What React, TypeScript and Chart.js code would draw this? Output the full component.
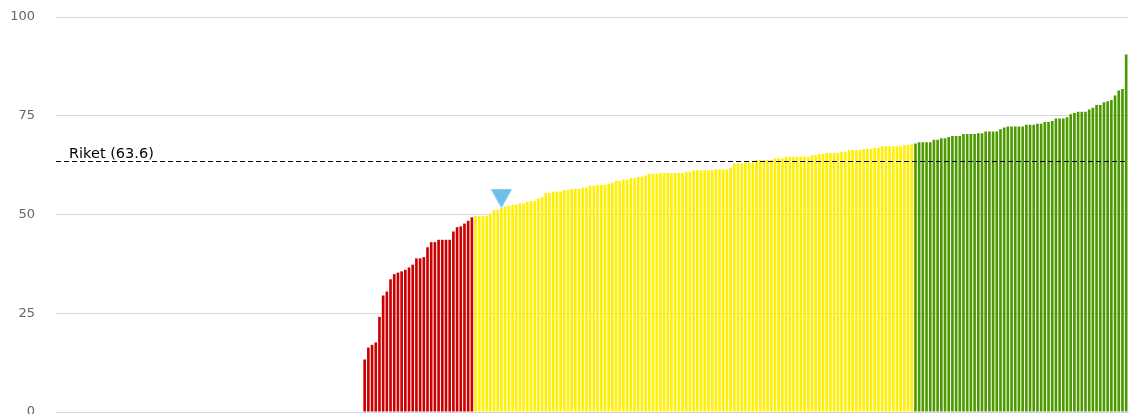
import React, { useEffect, useRef } from "react";
import { Chart, registerables } from "chart.js";

Chart.register(...registerables);

// Sorted values per municipality (null = no data)
const values: (number | null)[] = [
  null, null, null, null, null, null, null, null, null, null,
  null, null, null, null, null, null, null, null, null, null,
  null, null, null, null, null, null, null, null, null, null,
  null, null, null, null, null, null, null, null, null, null,
  null, null, null, null, null, null, null, null, null, null,
  null, null, null, null, null, null, null, null, null, null,
  null, null, null, null, null, null, null, null, null, null,
  null, null, null, null, null, null, null, null, null, null,
  null, null, null,
  13.3, 16.3, 17.0, 17.6, 24.1, 29.5, 30.5, 33.6, 34.9, 35.3,
  35.6, 36.0, 36.6, 37.3, 38.9, 38.9, 39.2, 41.7, 43.0, 43.0,
  43.6, 43.6, 43.6, 43.6, 45.7, 46.8, 47.0, 47.7, 48.4, 49.3,
  49.6, 49.6, 49.6, 49.6, 50.2, 51.1, 51.1, 51.6, 52.0, 52.2,
  52.5, 52.5, 52.8, 52.8, 53.2, 53.4, 53.4, 54.1, 54.4, 55.4,
  55.4, 55.8, 55.8, 55.8, 56.2, 56.2, 56.5, 56.5,
  56.5, 56.8, 56.8, 57.3, 57.3, 57.5, 57.5, 57.5, 57.8, 58.0,
  58.5, 58.5, 58.8, 58.8, 59.2, 59.2, 59.5, 59.6, 59.9, 60.3,
  60.3, 60.3, 60.5, 60.5, 60.5, 60.5, 60.5, 60.5, 60.5, 60.8,
  60.8, 61.2, 61.2, 61.2, 61.2, 61.2, 61.2, 61.4, 61.4, 61.4,
  61.4, 61.8, 62.9, 62.9, 62.9, 63.2, 63.2, 63.2, 63.8, 63.8,
  63.8, 63.8, 63.8, 64.2, 64.2, 64.2, 64.6, 64.6, 64.6, 64.6,
  64.6, 64.6, 64.6, 65.0, 65.0, 65.3, 65.3, 65.6, 65.6, 65.6,
  65.6, 65.9, 65.9, 66.3, 66.3, 66.3, 66.3, 66.6, 66.6, 66.6,
  66.9, 66.9, 67.3, 67.3, 67.3, 67.3, 67.3, 67.3, 67.6, 67.6,
  67.8,
  68.0, 68.3, 68.3, 68.3, 68.3, 68.9, 68.9, 69.3, 69.3, 69.6,
  69.9, 69.9, 69.9, 70.4, 70.4, 70.4, 70.4, 70.6, 70.6, 71.0,
  71.0, 71.0, 71.0,
  71.6, 72.0, 72.3, 72.3, 72.3, 72.3, 72.3,
  72.7, 72.7, 72.7, 73.0, 73.0, 73.4, 73.4, 73.7, 74.3, 74.3,
  74.3, 74.6, 75.4, 75.7, 76.0, 76.0, 76.0, 76.6, 77.0, 77.7,
  77.7, 78.4, 78.7, 79.0, 80.1, 81.4, 81.8, 90.5,
];

const categories: string[] = values.map((_, i) => String(i + 1));

const riketValue = 63.6;
const riketLabel = "Riket";
const highlightIndex = 120;
const yTicks = [0, 25, 50, 75, 100];
const colorLimits = [49.5, 67.9];
const barColors = ["#cc0000", "#fff000", "#4c9a00"];

const barColor = (v: number | null) =>
  v === null ? "transparent" : v < colorLimits[0] ? barColors[0] : v < colorLimits[1] ? barColors[1] : barColors[2];

function makeMarker(): HTMLCanvasElement {
  const c = document.createElement("canvas");
  c.width = 22;
  c.height = 40;
  const g = c.getContext("2d")!;
  g.fillStyle = "#6cc0e8";
  g.beginPath();
  g.moveTo(0.5, 1);
  g.lineTo(21.5, 1);
  g.lineTo(11, 20);
  g.closePath();
  g.fill();
  return c;
}

const riketPlugin = {
  id: "riketLine",
  afterDatasetsDraw(chart: any) {
    const { ctx, chartArea, scales } = chart;
    const y = Math.round(scales.y.getPixelForValue(riketValue)) + 0.5;
    ctx.save();
    ctx.strokeStyle = "#000";
    ctx.lineWidth = 1;
    ctx.setLineDash([5, 3]);
    ctx.beginPath();
    ctx.moveTo(chartArea.left, y);
    ctx.lineTo(chartArea.right, y);
    ctx.stroke();
    ctx.setLineDash([]);
    ctx.font = '14.5px "DejaVu Sans"';
    ctx.fillStyle = "#000";
    ctx.textAlign = "left";
    ctx.textBaseline = "alphabetic";
    ctx.fillText(`${riketLabel} (${riketValue.toFixed(1)})`, chartArea.left + 13, y - 4);
    ctx.restore();
  },
};

export default function App() {
  const ref = useRef<HTMLCanvasElement | null>(null);

  useEffect(() => {
    document.body.style.margin = "0";
    if (!ref.current) return;
    const markerData = values.map((v, i) => (i === highlightIndex ? v : null));
    const chart = new Chart(ref.current, {
      type: "bar",
      data: {
        labels: categories,
        datasets: [
          {
            type: "line",
            data: markerData,
            showLine: false,
            pointStyle: makeMarker() as any,
            pointRadius: 5,
            order: 0,
          } as any,
          {
            type: "bar",
            data: values,
            backgroundColor: values.map(barColor),
            borderWidth: 0,
            categoryPercentage: 1,
            barPercentage: 0.72,
            order: 1,
          },
        ],
      },
      options: {
        animation: false,
        responsive: false,
        events: [],
        layout: { autoPadding: false, padding: { top: 17, right: 2, bottom: 2, left: 0 } },
        plugins: { legend: { display: false }, tooltip: { enabled: false } },
        scales: {
          x: {
            grid: { display: false },
            ticks: { display: false },
            border: { display: true, color: "#ccd6eb", width: 1 },
            afterFit: (axis: any) => {
              axis.height = 0;
              axis.paddingLeft = 0;
              axis.paddingRight = 0;
            },
          },
          y: {
            min: 0,
            max: 100,
            afterBuildTicks: (axis: any) => {
              axis.ticks = yTicks.map((v) => ({ value: v }));
            },
            ticks: {
              color: "#666666",
              padding: 21,
              font: { family: "'DejaVu Sans'", size: 13 },
            },
            grid: {
              color: (ctx: any) => (ctx.tick && ctx.tick.value === 0 ? "#ccd6eb" : "#d8d8d8"),
              drawTicks: false,
            },
            border: { display: false },
            afterFit: (axis: any) => {
              axis.width = 56;
              axis.paddingTop = 0;
              axis.paddingBottom = 0;
            },
          },
        },
      },
      plugins: [riketPlugin],
    });
    return () => chart.destroy();
  }, []);

  return (
    <div style={{ width: 1130, height: 414 }}>
      <canvas ref={ref} width={1130} height={414} style={{ display: "block" }} />
    </div>
  );
}
